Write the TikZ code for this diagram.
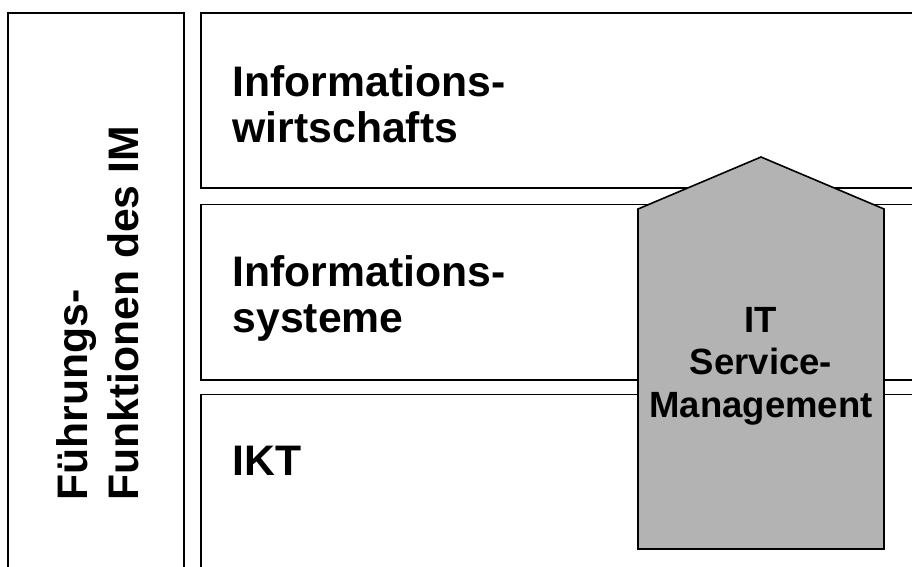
\documentclass[tikz,border=0pt]{standalone}
\usepackage{fontspec}
\setmainfont{Liberation Sans}
\begin{document}
\begin{tikzpicture}[x=1pt,y=-1pt,
  boxline/.style={draw=black,line width=1.6pt},
  housebox/.style={draw=black,line width=1.6pt,fill=housegray,line join=miter},
  biglabel/.style={inner sep=0pt,font=\bfseries\fontsize{42.7}{46}\selectfont,align=left},
  sidelabel/.style={inner sep=0pt,font=\bfseries\fontsize{42.7}{51}\selectfont,align=left,rotate=90},
  itlabel/.style={inner sep=0pt,font=\bfseries\fontsize{36.5}{42.5}\selectfont,align=center}]
\definecolor{housegray}{RGB}{179,179,179}
\useasboundingbox (0,0) rectangle (912,566);
\clip (0,0) rectangle (912,566);
% left column
\draw[boxline] (8,580) -- (8,13) -- (184,13) -- (184,580);
% layers
\draw[boxline] (930,13) -- (201,13) -- (201,188) -- (930,188);
\draw[boxline] (930,204.5) -- (201,204.5) -- (201,380) -- (930,380);
\draw[boxline] (930,394.5) -- (201,394.5) -- (201,580);
% IT service management house
\coordinate (hbl) at (638,549);
\coordinate (hl) at (638,209);
\coordinate (htop) at (761,157);
\coordinate (hr) at (884,209);
\coordinate (hbr) at (884,549);
\draw[housebox] (hbl) -- (hl) -- (htop) -- (hr) -- (hbr) -- cycle;
% labels
\node[biglabel,anchor=north west] (iw) at (232.5,65.5) {Informations-\\wirtschafts};
\node[biglabel,anchor=north west] (is) at (232.5,255.5) {Informations-\\systeme};
\node[biglabel,anchor=north west] (ikt) at (232.5,446.4) {IKT};
\node[sidelabel,anchor=north west] (fim) at (56,501) {Führungs-\\Funktionen des IM};
\node[itlabel,anchor=north] (itsm) at (761,307) {IT\\Service-\\Management};
\end{tikzpicture}
\end{document}
